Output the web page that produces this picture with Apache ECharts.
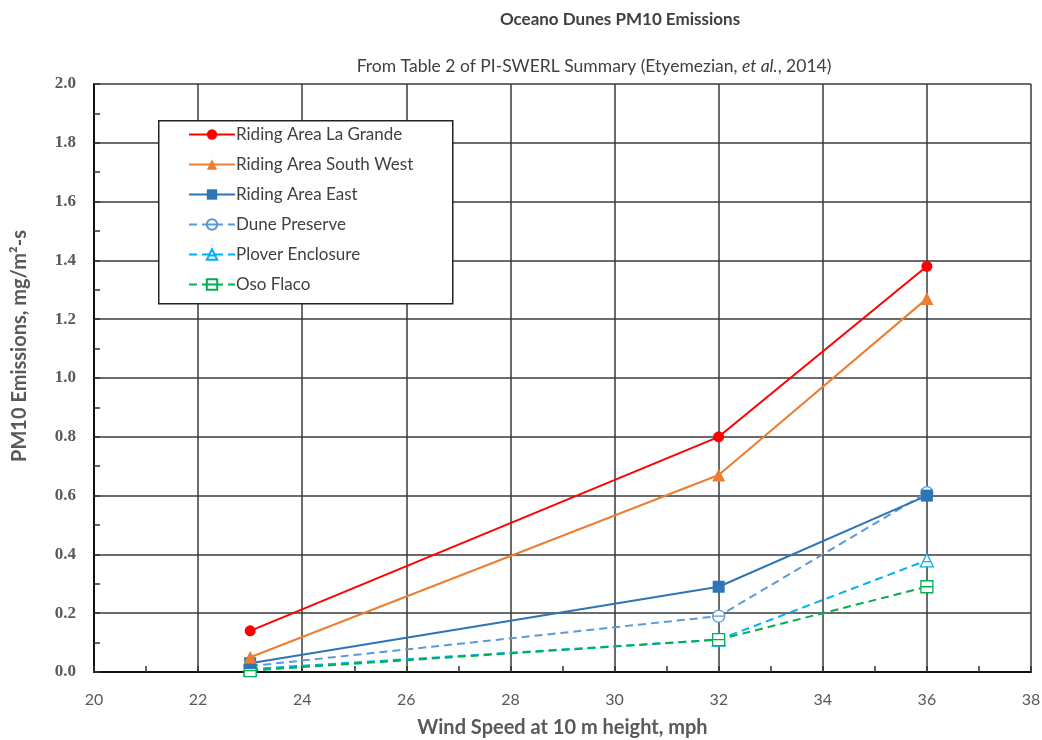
<!DOCTYPE html>
<html>
<head>
<meta charset="utf-8">
<script src="https://cdn.jsdelivr.net/npm/echarts@6/dist/echarts.min.js"></script>
<style>html,body{margin:0;padding:0;background:#fff}#c{width:1042px;height:740px}</style>
</head>
<body>
<div id="c"></div>
<script>
const windSpeed = [23, 32, 36];
const seriesNames = ['Riding Area La Grande','Riding Area South West','Riding Area East','Dune Preserve','Plover Enclosure','Oso Flaco'];
const laGrande = [0.14, 0.80, 1.38];
const southWest = [0.05, 0.67, 1.27];
const ridingEast = [0.03, 0.29, 0.60];
const dunePreserve = [0.02, 0.19, 0.61];
const ploverEnclosure = [0.01, 0.11, 0.38];
const osoFlaco = [0.005, 0.11, 0.29];
const xTicks = [20, 22, 24, 26, 28, 30, 32, 34, 36, 38];
const yTicks = [0.0, 0.2, 0.4, 0.6, 0.8, 1.0, 1.2, 1.4, 1.6, 1.8, 2.0];

const colors = ['#FF0000', '#ED7D31', '#2E75B6', '#5B9BD5', '#00B0F0', '#00B050'];
const circleBar = 'path://M0,10 A10,10 0 1,1 20,10 A10,10 0 1,1 0,10 Z M0,10 L20,10';
const triBar = 'path://M10,0 L20,20 L0,20 Z M5,12 L15,12';
const squareBar = 'path://M0,0 L20,0 L20,20 L0,20 Z M0,10 L20,10';
const allData = [laGrande, southWest, ridingEast, dunePreserve, ploverEnclosure, osoFlaco];
const symbols = ['circle', 'triangle', 'rect', circleBar, triBar, squareBar];
const sizes = [11, 13, 12, 12, 13, 12];
const dashed = [false, false, false, true, true, true];
const zOrder = [10, 9, 8, 6, 5, 7];

const series = allData.map((vals, i) => ({
  name: seriesNames[i],
  type: 'line',
  data: windSpeed.map((x, j) => [x, vals[j]]),
  symbol: symbols[i],
  symbolSize: sizes[i],
  showAllSymbol: true,
  lineStyle: { color: colors[i], width: 2, type: dashed[i] ? [8, 5] : 'solid' },
  itemStyle: dashed[i]
    ? { color: '#ffffff', borderColor: colors[i], borderWidth: 1.3 }
    : { color: colors[i], borderColor: colors[i], borderWidth: 0 },
  z: zOrder[i]
}));

const textColor = '#595959';
const chart = echarts.init(document.getElementById('c'), null, { renderer: 'canvas' });
chart.setOption({
  backgroundColor: '#ffffff',
  animation: false,
  title: [
    { text: 'Oceano Dunes PM10 Emissions', left: 615, top: 6, textAlign: 'center',
      textStyle: { fontFamily: 'Lato', fontWeight: 'bold', fontSize: 17, color: '#404040' } },
    { text: '{n|From Table 2 of PI-SWERL Summary (Etyemezian, }{i|et al.}{n|, 2014)}', left: 589, top: 52, textAlign: 'center',
      textStyle: { fontWeight: 'normal', rich: {
        n: { fontFamily: 'Lato', fontSize: 17.5, fontWeight: 'normal', color: '#404040' },
        i: { fontFamily: 'Lato', fontSize: 17.5, fontWeight: 'normal', fontStyle: 'italic', color: '#404040' } } } }
  ],
  graphic: [
    { type: 'rect', left: 158, top: 120, shape: { width: 294, height: 183 },
      style: { fill: '#ffffff', stroke: '#222', lineWidth: 1.5 }, z: 3 },
    { type: 'text', x: 20, y: 346, rotation: Math.PI / 2, z: 5,
      style: { text: 'PM10 Emissions, mg/m²-s', fontFamily: 'Lato', fontWeight: 'bold', fontSize: 20,
        fill: textColor, align: 'center', verticalAlign: 'middle' } }
  ],
  legend: {
    orient: 'vertical', left: 188, top: 126, z: 6,
    itemWidth: 46, itemHeight: 13, itemGap: 13,
    data: seriesNames,
    textStyle: { fontFamily: 'Lato', fontSize: 17, color: '#404040', padding: [0, 0, 0, -4] },
    padding: 0
  },
  grid: { left: 94, right: 11, top: 84, bottom: 68, containLabel: false, outerBoundsMode: 'none', show: false },
  xAxis: {
    type: 'value', min: 20, max: 38, interval: 2,
    name: 'Wind Speed at 10 m height, mph', nameLocation: 'middle', nameGap: 46,
    nameTextStyle: { fontFamily: 'Lato', fontWeight: 'bold', fontSize: 20, color: textColor },
    axisLine: { show: true, onZero: false, lineStyle: { color: '#111', width: 2 } },
    axisTick: { show: true, inside: true, length: 6, lineStyle: { color: '#333', width: 1.5 } },
    minorTick: { show: true, splitNumber: 2, length: 6, lineStyle: { color: '#333', width: 1.5 } },
    splitLine: { show: true, lineStyle: { color: '#3a3a3a', width: 1.5 } },
    axisLabel: { margin: 20, fontFamily: 'Lato', fontSize: 16, color: textColor,
      formatter: v => xTicks.includes(v) ? String(v) : '' }
  },
  yAxis: {
    type: 'value', min: 0, max: 2.0, interval: 0.2,
    axisLine: { show: true, onZero: false, lineStyle: { color: '#111', width: 2 } },
    axisTick: { show: true, inside: true, length: 6, lineStyle: { color: '#333', width: 1.5 } },
    minorTick: { show: true, splitNumber: 2, length: 6, lineStyle: { color: '#333', width: 1.5 } },
    splitLine: { show: true, lineStyle: { color: '#3a3a3a', width: 1.5 } },
    axisLabel: { margin: 18, fontFamily: 'Liberation Serif', fontWeight: 'bold', fontSize: 17, color: textColor,
      formatter: v => { const t = yTicks.find(k => Math.abs(k - v) < 1e-6); return t === undefined ? '' : t.toFixed(1); } }
  },
  series: series
});
</script>
</body>
</html>
